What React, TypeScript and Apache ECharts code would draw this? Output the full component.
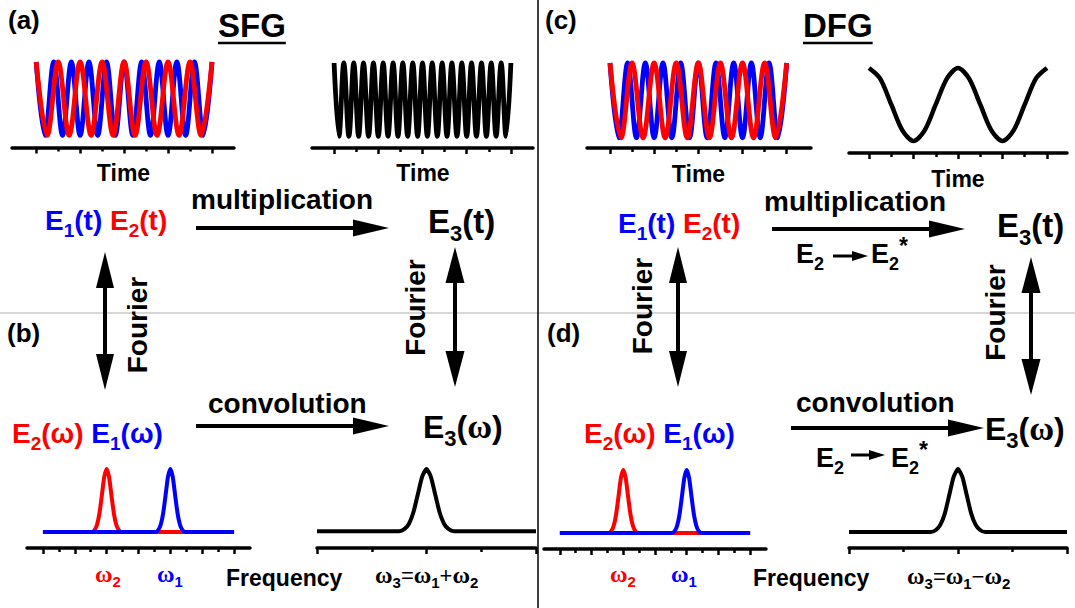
import React, { useEffect, useRef } from 'react';
import * as echarts from 'echarts';

// ---------------- data ----------------
// time axes: tick positions (arbitrary time units)
const timeMajorTicks = [0, 2, 4, 6, 8];
const timeMinorTicks = [1, 3, 5, 7];
// frequency axes: tick positions (arbitrary frequency units)
const freqMajorTicks = [0, 2, 4, 6, 8, 10, 12];
const freqMinorTicks = [1, 3, 5, 7, 9, 11];
const sumFreqMajorTicks = [0, 2, 4];
const sumFreqMinorTicks = [1, 3];

// E1(t) (blue, higher frequency): extrema of the wave
const e1TimeX = [0, 0.4, 0.8, 1.2, 1.6, 2.0, 2.4, 2.8, 3.2, 3.6, 4.0, 4.4, 4.8, 5.2, 5.6, 6.0, 6.4, 6.8, 7.2, 7.6, 8.0];
const e1TimeY = [1, -1, 1, -1, 1, -1, 1, -1, 1, -1, 1, -1, 1, -1, 1, -1, 1, -1, 1, -1, 1];
// E2(t) (red, lower frequency)
const e2TimeX = [0, 0.5, 1, 1.5, 2, 2.5, 3, 3.5, 4, 4.5, 5, 5.5, 6, 6.5, 7, 7.5, 8];
const e2TimeY = [1, -1, 1, -1, 1, -1, 1, -1, 1, -1, 1, -1, 1, -1, 1, -1, 1];
// E3(t) for SFG (black, sum frequency)
const sfgTimeX = [0, 0.22, 0.44, 0.67, 0.89, 1.11, 1.33, 1.56, 1.78, 2.0, 2.22, 2.44, 2.67, 2.89, 3.11, 3.33, 3.56, 3.78, 4.0,
  4.22, 4.44, 4.67, 4.89, 5.11, 5.33, 5.56, 5.78, 6.0, 6.22, 6.44, 6.67, 6.89, 7.11, 7.33, 7.56, 7.78, 8.0];
const sfgTimeY = [1, -1, 1, -1, 1, -1, 1, -1, 1, -1, 1, -1, 1, -1, 1, -1, 1, -1, 1,
  -1, 1, -1, 1, -1, 1, -1, 1, -1, 1, -1, 1, -1, 1, -1, 1, -1, 1];
// E3(t) for DFG (black, difference frequency), read every half unit
const dfgTimeX = [0, 0.5, 1, 1.5, 2, 2.5, 3, 3.5, 4, 4.5, 5, 5.5, 6, 6.5, 7, 7.5, 8];
const dfgTimeY = [1, 0.71, 0, -0.71, -1, -0.71, 0, 0.71, 1, 0.71, 0, -0.71, -1, -0.71, 0, 0.71, 1];

// spectra
const e2SpecX = [0, 3.1, 3.25, 3.4, 3.55, 3.7, 3.85, 4, 4.15, 4.3, 4.45, 4.6, 4.75, 4.9, 12];
const e2SpecY = [0, 0, 0.035, 0.12, 0.3, 0.585, 0.875, 1, 0.875, 0.585, 0.3, 0.12, 0.035, 0, 0];
const e1SpecX = [0, 7.1, 7.25, 7.4, 7.55, 7.7, 7.85, 8, 8.15, 8.3, 8.45, 8.6, 8.75, 8.9, 12];
const e1SpecY = [0, 0, 0.035, 0.12, 0.3, 0.585, 0.875, 1, 0.875, 0.585, 0.3, 0.12, 0.035, 0, 0];
const e3SpecX = [0, 1.5, 1.6, 1.68, 1.76, 1.84, 1.92, 2, 2.08, 2.16, 2.24, 2.32, 2.4, 2.5, 4];
const e3SpecY = [0, 0, 0.036, 0.12, 0.3, 0.587, 0.875, 1, 0.875, 0.587, 0.3, 0.12, 0.036, 0, 0];

// ---------------- helpers ----------------
const RED = '#ff0000';
const BLUE = '#0000ff';
const BLACK = '#000000';
const SANS = 'Liberation Sans';
const SERIF = 'Liberation Serif';

const zip = (xs: number[], ys: number[]) => xs.map((x, i) => [x, ys[i]]);

let measureCtx: CanvasRenderingContext2D | null = null;
function measure(text: string, size: number, weight: string, fam: string) {
  if (!measureCtx) measureCtx = document.createElement('canvas').getContext('2d');
  if (!measureCtx) return text.length * size * 0.6;
  measureCtx.font = `${weight} ${size}px "${fam}"`;
  return measureCtx.measureText(text).width;
}

type Seg = { t: string; size: number; color?: string; serif?: boolean; weight?: string; dy?: number };

function segWidth(segs: Seg[]) {
  return segs.reduce((a, s) => a + measure(s.t, s.size, s.weight ?? 'bold', s.serif ? SERIF : SANS), 0);
}

function seq(x0: number, baseline: number, segs: Seg[], color = BLACK) {
  const els: any[] = [];
  let x = x0;
  for (const s of segs) {
    const fam = s.serif ? SERIF : SANS;
    const weight = s.weight ?? 'bold';
    const central = s.serif ? 0.3375 : 0.3465;
    if (s.t !== '') {
      els.push({
        type: 'text',
        silent: true,
        x,
        y: baseline + (s.dy ?? 0) - central * s.size,
        style: {
          text: s.t,
          fontSize: s.size,
          fontWeight: weight,
          fontFamily: fam,
          fill: s.color ?? color,
          align: 'left',
          verticalAlign: 'middle',
          textAlign: 'left',
          textVerticalAlign: 'middle',
        },
      });
    }
    x += measure(s.t, s.size, weight, fam);
  }
  return { els, end: x };
}

function centered(cx: number, baseline: number, segs: Seg[]) {
  return seq(cx - segWidth(segs) / 2, baseline, segs).els;
}

function rotText(cx: number, cy: number, text: string, size: number) {
  return {
    type: 'text',
    silent: true,
    x: cx,
    y: cy,
    rotation: Math.PI / 2,
    style: {
      text,
      fontSize: size,
      fontWeight: 'bold',
      fontFamily: SANS,
      fill: BLACK,
      align: 'center',
      verticalAlign: 'middle',
      textAlign: 'center',
      textVerticalAlign: 'middle',
    },
  };
}

function hArrow(x1: number, x2: number, y: number, w: number, headL: number, headH: number) {
  return [
    { type: 'line', silent: true, shape: { x1, y1: y, x2: x2 - headL + 2, y2: y }, style: { stroke: BLACK, lineWidth: w } },
    {
      type: 'polygon', silent: true,
      shape: { points: [[x2, y], [x2 - headL, y - headH / 2], [x2 - headL, y + headH / 2]] },
      style: { fill: BLACK },
    },
  ];
}

function vArrow2(x: number, y1: number, y2: number, w: number, headL: number, headW: number) {
  return [
    { type: 'line', silent: true, shape: { x1: x, y1: y1 + headL - 2, x2: x, y2: y2 - headL + 2 }, style: { stroke: BLACK, lineWidth: w } },
    {
      type: 'polygon', silent: true,
      shape: { points: [[x, y1], [x - headW / 2, y1 + headL], [x + headW / 2, y1 + headL]] },
      style: { fill: BLACK },
    },
    {
      type: 'polygon', silent: true,
      shape: { points: [[x, y2], [x - headW / 2, y2 - headL], [x + headW / 2, y2 - headL]] },
      style: { fill: BLACK },
    },
  ];
}

const E = (t: string, color: string, main: number, sub: number, tail: string): Seg[] => [
  { t: 'E', size: main, color },
  { t, size: sub, color, dy: Math.round(sub * 0.38) },
  { t: tail, size: main, color },
];

// E_n(ω) with a serif omega
const Ew = (t: string, color: string, main: number, sub: number, serifOmega: boolean): Seg[] => [
  { t: 'E', size: main, color },
  { t, size: sub, color, dy: Math.round(sub * 0.38) },
  { t: '(', size: main, color },
  serifOmega ? { t: 'ω', size: main + 2, color, serif: true, weight: 'bold' } : { t: 'ω', size: main, color },
  { t: ')', size: main, color },
];

const omega = (sub: string, color: string): Seg[] => [
  { t: 'ω', size: 24, color, serif: true, weight: 'bold' },
  { t: sub, size: 15, color, dy: 5 },
];

// ---------------- option ----------------
type GridSpec = { left: number; top: number; width: number; height: number; xmin: number; xmax: number; ymin: number; ymax: number; major: number[]; minor: number[]; majorLen: number; minorLen: number };

const gridSpecs: GridSpec[] = [
  { left: 12, top: 62, width: 222, height: 85.5, xmin: -1.1, xmax: 9, ymin: -1.33, ymax: 1, major: timeMajorTicks, minor: timeMinorTicks, majorLen: 6, minorLen: 4 },
  { left: 312, top: 63, width: 221, height: 85, xmin: -1, xmax: 9, ymin: -1.32, ymax: 1, major: timeMajorTicks, minor: timeMinorTicks, majorLen: 6, minorLen: 4 },
  { left: 587, top: 63, width: 224, height: 85, xmin: -1.04, xmax: 9.1, ymin: -1.27, ymax: 1, major: timeMajorTicks, minor: timeMinorTicks, majorLen: 6, minorLen: 4 },
  { left: 849, top: 68, width: 218, height: 85, xmin: -0.9, xmax: 8.9, ymin: -1.33, ymax: 1, major: timeMajorTicks, minor: timeMinorTicks, majorLen: 6, minorLen: 4 },
  { left: 27, top: 469, width: 223, height: 79, xmin: -1, xmax: 13, ymin: -0.254, ymax: 1, major: freqMajorTicks, minor: freqMinorTicks, majorLen: 6, minorLen: 4 },
  { left: 317, top: 469, width: 219, height: 79, xmin: 0, xmax: 4, ymin: -0.27, ymax: 1, major: sumFreqMajorTicks, minor: sumFreqMinorTicks, majorLen: 6, minorLen: 4 },
  { left: 544, top: 470, width: 222, height: 79, xmin: -1, xmax: 13, ymin: -0.254, ymax: 1, major: freqMajorTicks, minor: freqMinorTicks, majorLen: 6, minorLen: 4 },
  { left: 849, top: 469, width: 218, height: 79, xmin: 0, xmax: 4, ymin: -0.254, ymax: 1, major: sumFreqMajorTicks, minor: sumFreqMinorTicks, majorLen: 6, minorLen: 4 },
];

function buildOption() {
  const grid: any[] = [];
  const xAxis: any[] = [];
  const yAxis: any[] = [];
  const mainX: number[] = [];
  gridSpecs.forEach((g, i) => {
    grid.push({ left: g.left, top: g.top, width: g.width, height: g.height, containLabel: false });
    mainX.push(xAxis.length);
    xAxis.push({
      type: 'value', gridIndex: i, min: g.xmin, max: g.xmax, position: 'bottom',
      axisLine: { show: true, onZero: false, lineStyle: { color: BLACK, width: 3.5 } },
      axisTick: { show: true, customValues: g.major, length: g.majorLen, inside: false, lineStyle: { color: BLACK, width: 2.5 } },
      axisLabel: { show: false },
      splitLine: { show: false },
    });
    xAxis.push({
      type: 'value', gridIndex: i, min: g.xmin, max: g.xmax, position: 'bottom',
      axisLine: { show: false, onZero: false },
      axisTick: { show: true, customValues: g.minor, length: g.minorLen, inside: false, lineStyle: { color: BLACK, width: 2.5 } },
      axisLabel: { show: false },
      splitLine: { show: false },
    });
    yAxis.push({ type: 'value', gridIndex: i, min: g.ymin, max: g.ymax, show: false, splitLine: { show: false } });
  });

  const line = (gi: number, xs: number[], ys: number[], color: string, width: number, smooth: number) => ({
    type: 'line',
    xAxisIndex: mainX[gi],
    yAxisIndex: gi,
    data: zip(xs, ys),
    showSymbol: false,
    symbol: 'none',
    smooth,
    clip: false,
    silent: true,
    lineStyle: { color, width },
    z: 3,
  });

  const series = [
    line(0, e1TimeX, e1TimeY, BLUE, 4.8, 0.36),
    line(0, e2TimeX, e2TimeY, RED, 4.8, 0.36),
    line(1, sfgTimeX, sfgTimeY, BLACK, 4.8, 0.36),
    line(2, e1TimeX, e1TimeY, BLUE, 4.8, 0.36),
    line(2, e2TimeX, e2TimeY, RED, 4.8, 0.36),
    line(3, dfgTimeX, dfgTimeY, BLACK, 4.5, 0.3),
    line(4, e2SpecX, e2SpecY, RED, 4, 0.2),
    line(4, e1SpecX, e1SpecY, BLUE, 4, 0.2),
    line(5, e3SpecX, e3SpecY, BLACK, 4, 0.2),
    line(6, e2SpecX, e2SpecY, RED, 4, 0.2),
    line(6, e1SpecX, e1SpecY, BLUE, 4, 0.2),
    line(7, e3SpecX, e3SpecY, BLACK, 4, 0.2),
  ];

  const g: any[] = [];
  // frame lines
  g.push({ type: 'line', silent: true, shape: { x1: 0, y1: 313, x2: 1075, y2: 313 }, style: { stroke: '#c8c8c8', lineWidth: 1.5 }, z: 0 });
  g.push({ type: 'line', silent: true, shape: { x1: 538, y1: 0, x2: 538, y2: 608 }, style: { stroke: BLACK, lineWidth: 1.5 } });

  // ---------- left half: SFG ----------
  g.push(...seq(8, 29, [{ t: '(a)', size: 26 }]).els);
  const sfg = seq(218, 37, [{ t: 'SFG', size: 33 }]);
  g.push(...sfg.els);
  g.push({ type: 'line', silent: true, shape: { x1: 218, y1: 43, x2: sfg.end, y2: 43 }, style: { stroke: BLACK, lineWidth: 2.5 } });
  g.push(...centered(123.5, 181, [{ t: 'Time', size: 23 }]));
  g.push(...centered(423, 181, [{ t: 'Time', size: 23 }]));

  g.push(...seq(45, 230, [...E('1', BLUE, 28, 19, '(t)'), { t: ' ', size: 28 }, ...E('2', RED, 28, 19, '(t)')]).els);
  g.push(...seq(191, 209, [{ t: 'multiplication', size: 28 }]).els);
  g.push(...hArrow(196, 389, 228, 4, 36, 17));
  g.push(...seq(428, 233, E('3', BLACK, 33, 22, '(t)')).els);

  g.push(...vArrow2(105, 252, 390, 4, 36, 18));
  g.push(rotText(137.5, 325, 'Fourier', 28));
  g.push(...vArrow2(455, 247, 387, 4, 36, 19));
  g.push(rotText(415, 307.5, 'Fourier', 28));

  g.push(...seq(7, 342, [{ t: '(b)', size: 26 }]).els);
  g.push(...seq(208, 413, [{ t: 'convolution', size: 28 }]).els);
  g.push(...hArrow(196, 389, 426, 4, 36, 17));
  g.push(...seq(423, 438, Ew('3', BLACK, 32, 22, true)).els);
  g.push(...seq(12, 443, [...Ew('2', RED, 28, 19, false), { t: ' ', size: 28 }, ...Ew('1', BLUE, 28, 19, false)]).els);

  g.push(...seq(95, 582, omega('2', RED)).els);
  g.push(...seq(157, 582, omega('1', BLUE)).els);
  g.push(...seq(226, 586, [{ t: 'Frequency', size: 23 }]).els);
  g.push(...seq(375, 583, [
    ...omega('3', BLACK),
    { t: '=', size: 22, weight: 'normal' },
    ...omega('1', BLACK),
    { t: '+', size: 22, weight: 'normal' },
    ...omega('2', BLACK),
  ]).els);

  // ---------- right half: DFG ----------
  g.push(...seq(545, 29, [{ t: '(c)', size: 26 }]).els);
  const dfg = seq(803, 37, [{ t: 'DFG', size: 33 }]);
  g.push(...dfg.els);
  g.push({ type: 'line', silent: true, shape: { x1: 803, y1: 43, x2: dfg.end, y2: 43 }, style: { stroke: BLACK, lineWidth: 2.5 } });
  g.push(...centered(698.5, 182, [{ t: 'Time', size: 23 }]));
  g.push(...centered(958, 187, [{ t: 'Time', size: 23 }]));

  g.push(...seq(618, 233, [...E('1', BLUE, 28, 19, '(t)'), { t: ' ', size: 28 }, ...E('2', RED, 28, 19, '(t)')]).els);
  g.push(...seq(764, 211, [{ t: 'multiplication', size: 28 }]).els);
  g.push(...hArrow(772, 965, 229, 4, 36, 17));
  g.push(...seq(796, 263, E('2', BLACK, 27, 18, '')).els);
  g.push(...hArrow(833, 868, 256, 3, 16, 10));
  g.push(...seq(871, 263, [...E('2', BLACK, 27, 18, ''), { t: '*', size: 23, dy: -9 }]).els);
  g.push(...seq(997, 237, E('3', BLACK, 33, 22, '(t)')).els);

  g.push(...vArrow2(678, 247, 387, 4, 36, 18));
  g.push(rotText(642, 306, 'Fourier', 28));
  g.push(...vArrow2(1031, 257, 395, 4, 36, 19));
  g.push(rotText(995, 312.5, 'Fourier', 28));

  g.push(...seq(547, 342, [{ t: '(d)', size: 26 }]).els);
  g.push(...seq(796, 412, [{ t: 'convolution', size: 28 }]).els);
  g.push(...hArrow(791, 984, 428, 4, 36, 17));
  g.push(...seq(985, 440, Ew('3', BLACK, 32, 22, true)).els);
  g.push(...seq(816, 467, E('2', BLACK, 27, 18, '')).els);
  g.push(...hArrow(851, 885, 455, 3, 16, 10));
  g.push(...seq(891, 467, [...E('2', BLACK, 27, 18, ''), { t: '*', size: 23, dy: -9 }]).els);
  g.push(...seq(584, 443, [...Ew('2', RED, 28, 19, false), { t: ' ', size: 28 }, ...Ew('1', BLUE, 28, 19, false)]).els);

  g.push(...seq(610, 582, omega('2', RED)).els);
  g.push(...seq(671, 582, omega('1', BLUE)).els);
  g.push(...seq(753, 586, [{ t: 'Frequency', size: 23 }]).els);
  g.push(...seq(907, 584, [
    ...omega('3', BLACK),
    { t: '=', size: 22, weight: 'normal' },
    ...omega('1', BLACK),
    { t: '−', size: 22, weight: 'normal' },
    ...omega('2', BLACK),
  ]).els);

  return {
    animation: false,
    backgroundColor: '#ffffff',
    grid,
    xAxis,
    yAxis,
    series,
    graphic: { elements: g },
  };
}

export default function App() {
  const ref = useRef<HTMLDivElement>(null);
  useEffect(() => {
    if (!ref.current) return;
    const chart = echarts.init(ref.current, undefined, { renderer: 'svg' });
    chart.setOption(buildOption() as any);
    return () => chart.dispose();
  }, []);
  return (
    <div
      ref={ref}
      style={{ position: 'fixed', left: 0, top: 0, width: 1075, height: 608, background: '#fff' }}
    />
  );
}
